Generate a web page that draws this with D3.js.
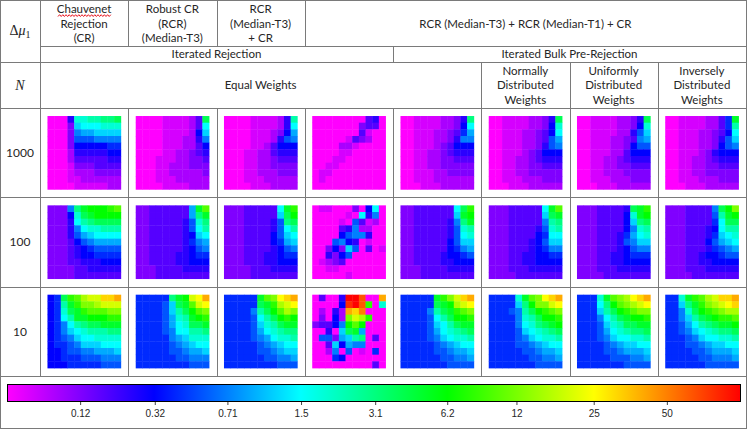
<!DOCTYPE html>
<html>
<head>
<meta charset="utf-8">
<script src="https://cdn.jsdelivr.net/npm/d3@7"></script>
<style>
  html, body { margin: 0; padding: 0; background: #fff; }
  svg { display: block; }
  text { font-family: Lato, "Open Sans", sans-serif; font-size: 11.5px; fill: #262626; }
  .math { font-family: "Liberation Serif", "DejaVu Serif", serif; font-size: 14px; }
</style>
</head>
<body>
<svg id="chart" width="747" height="429"></svg>
<script>
// table columns (methods) and rows (sample size N)
var methods = ["CR", "RCR-T3", "RCR-T3+CR", "RCR-all", "bulk-equal", "bulk-normal", "bulk-uniform", "bulk-inverse"];
var sampleSizes = [1000, 100, 10];

// colour bar
var barTicks = [0.12, 0.32, 0.71, 1.5, 3.1, 6.2, 12, 25, 50];
var barStops = ["#ff00ff", "#0000ff", "#00ffff", "#00ff00", "#ffff00", "#ff0000"];

// heatmaps, one per method: 11 strings (top row first), one char per cell.
// char (base 36) = position on the colour bar in 30ths: 0 magenta .. u red
var heat1000 = [
  ["0005ddeeffg","0003bcccddd","00039aabbbb","00038889999","00036666677","00025555566","00024444455","00013334444","00012223333","00011222222","00001111122"],
  ["0000111124g","0000111124c","0000111126b","00001112259","00001112246","00001122345","00011122334","00011222333","00011222223","00011122222","00001111222"],
  ["0000111125e","0000111125c","0000111236a","00001112589","00001124666","00011224555","00011223444","00011223333","00011222333","00011122222","00001112222"],
  ["00000000450","00000003440","00000004100","00000143200","00002210000","00001100000","00011000000","00110000000","01100000000","01000000000","00000000000"],
  ["0011112235f","0011112236c","0011122347a","00111223599","00111234666","00112234555","00112233444","00112233333","00111223333","00111222222","00011122222"],
  ["0011112235g","0011112236d","0011122346c","0011122348a","00111223589","00111234666","00112234555","00112233444","00112233333","00111222333","00011122222"],
  ["0011112235g","0011112236d","0011112258b","0011122349a","00111223688","00111224666","00112234555","00112233444","00112223333","00111222333","00011122222"],
  ["0011112247h","0011112247e","0011122346c","0011122358b","00111223689","00111235666","00112234555","00112233444","00112233333","00111222333","00011122222"]
];
var heat100 = [
  ["3339fhiiijk","3336dghiiii","3335cefgggg","33359cddeee","33358abcccc","3334689aaaa","33345678888","33345667777","33344555666","33334455555","33334444444"],
  ["33444444ahk","33444444afh","334444458df","334444458ce","334444456bc","3344444579a","33444445689","33444455677","33444455666","33344445555","33344444444"],
  ["33344444chj","33344444bgi","333444458fg","333444458ce","333444468bc","333444467ab","33344445689","33344455677","33344455666","33334445555","33334444444"],
  ["011000306c0","0000010c590","00001084120","00004592200","00006899500","00089650100","00363b80401","00536800000","01234000000","00110000000","00000100000"],
  ["33444444cgj","33444444bhi","334444459fh","334444458de","334444458cd","334444468bb","3344444679a","33444456678","33444455666","33344445555","33344444444"],
  ["33344444chk","33344444bgh","333444449ef","333444458de","333444467cc","333444568bb","33344456799","33344556677","33344556666","33344455555","33334444444"],
  ["33344445ghj","33344446dhi","33344446bfg","333444469de","33344457acd","333444589bb","33344456899","33344556777","33344556666","33344455555","33334444444"],
  ["33344449gil","33344448ehi","33344447cgg","33344456cee","33344457bcd","33344468abc","3334445789a","33344566788","33344556666","33344455555","33334444444"]
];
var heat10 = [
  ["67gjkmnnppq","67ehjllmnnn","67dghjkkkll","67cehhiiijj","679cefgghhh","679bcdeeeff","6789bccdddd","67789bbbccc","6678899aaab","66777888999","66677777888"],
  ["77777fhinoq","77778bghkno","77778begikl","77778adehij","77778acdggh","777789cceef","777779abddd","7777789abcc","77777889aab","77777788999","77777777888"],
  ["77777hklopq","77777ghjmno","77779egikml","77778cegiji","77778bdeghh","77778acdeff","777789acdde","7777789abcc","77777889abb","7777778899a","77777777888"],
  ["04005uus00q","00006tusj0d","02052qpr000","03062lnmj00","34469iki000","0050bgha000","0883abef040","004b6a99000","00290801070","00076000000","00000000040"],
  ["77777hjlnpq","77777ghimno","77779eghjkl","77778cegiij","77778bceghh","77778acdefg","777789bcdde","7777789abcc","77777889aab","7777778899a","77777778888"],
  ["7777dhklopq","7777bfillno","77789egijkl","77779degiij","77779cdfghi","77778bcdefg","777789bcdde","7777889abcc","77777889aab","7777778899a","77777778888"],
  ["777dhklmopq","777cfiklmno","777begijkll","7779ceghiij","7778bdegghh","7778acdeffg","77789bccdde","777789abbcc","7777889aaab","7777788899a","77777778888"],
  ["77dhjkmnppq","77bfhjlmnop","779dgijklmm","779beghijjk","778acefghhi","7789bcdeffg","77789bccdde","777889abbcc","7777889aaab","7777788999a","77777788888"]
];

var svg = d3.select("#chart"),
    W = 746, H = 428,
    hm = 73.3,            // heatmap side
    lineCol = "#7a7a7a";

var col = d3.scaleBand().domain(methods).range([40, W]),
    row = d3.scaleBand().domain(sampleSizes).range([108, 376]),
    cell = d3.scaleBand().domain(d3.range(11)).range([0, hm]),
    pos = d3.scaleLinear().domain([0, 30]).range([0, 1]),
    color = d3.scaleLinear().domain([0, .2, .4, .6, .8, 1]).range(barStops);

//
// heatmaps
var grids = {1000: heat1000, 100: heat100, 10: heat10};
sampleSizes.forEach(function(n) {
  grids[n].forEach(function(g, i) {
    var cells = [];
    g.forEach(function(line, r) {
      line.split("").forEach(function(ch, c) { cells.push({r: r, c: c, v: parseInt(ch, 36)}); });
    });
    svg.append("g")
      .attr("transform", "translate(" + (col(methods[i]) + (col.bandwidth() - hm) / 2) + "," +
                                        (row(n) + (row.bandwidth() - hm) / 2) + ")")
      .selectAll("rect").data(cells).join("rect")
      .attr("x", d => cell(d.c)).attr("y", d => cell(d.r))
      .attr("width", cell.bandwidth() + 0.4).attr("height", cell.bandwidth() + 0.4)
      .attr("fill", d => color(pos(d.v)));
  });
});

//
// table grid
function px(v) { return Math.round(v) + 0.5; }
function hline(y, x1, x2) {
  svg.append("line").attr("x1", px(x1) - 0.5).attr("x2", px(x2) + 0.5).attr("y1", px(y)).attr("y2", px(y))
    .attr("stroke", lineCol).attr("stroke-width", 1);
}
function vline(x, y1, y2) {
  svg.append("line").attr("x1", px(x)).attr("x2", px(x)).attr("y1", px(y1) - 0.5).attr("y2", px(y2) + 0.5)
    .attr("stroke", lineCol).attr("stroke-width", 1);
}
var splitX = col(methods[4]);
[0, 62, 108, row(100), row(10), 376, H].forEach(y => hline(y, 0, W));
hline(46, 40, W);
vline(0, 0, H); vline(W, 0, H);
vline(40, 0, 376);
methods.slice(1, 4).forEach(m => { vline(col(m), 0, 46); vline(col(m), 108, 376); });
vline(splitX, 46, 62); vline(splitX, 108, 376);
methods.slice(5).forEach(m => vline(col(m), 62, 376));

//
// header texts
function label(x, y, lines, step) {
  var t = svg.append("text").attr("text-anchor", "middle");
  lines.forEach(function(s, i) {
    t.append("tspan").attr("x", x).attr("y", y + i * (step || 14.6)).attr("dy", "0.35em").text(s);
  });
  return t;
}
var mid = m => col(m) + col.bandwidth() / 2;
label(mid("CR"), 9, ["Chauvenet", "Rejection", "(CR)"]);
label(mid("RCR-T3"), 9, ["Robust CR", "(RCR)", "(Median-T3)"]);
label(mid("RCR-T3+CR"), 9, ["RCR", "(Median-T3)", "+ CR"]);
label((col("RCR-all") + W) / 2, 24, ["RCR (Median-T3) + RCR (Median-T1) + CR"]);
label((40 + splitX) / 2, 54, ["Iterated Rejection"]);
label((splitX + W) / 2, 54, ["Iterated Bulk Pre-Rejection"]);
label((40 + col("bulk-normal")) / 2, 85, ["Equal Weights"]);
label(mid("bulk-normal"), 70.5, ["Normally", "Distributed", "Weights"]);
label(mid("bulk-uniform"), 70.5, ["Uniformly", "Distributed", "Weights"]);
label(mid("bulk-inverse"), 70.5, ["Inversely", "Distributed", "Weights"]);

// spell-check squiggle under "Chauvenet"
var sq = d3.range(58, 112, 1.6).map((x, i) => [x, 15.6 + (i % 2 ? -0.9 : 0.9)]);
svg.append("path").attr("d", d3.line()(sq)).attr("fill", "none").attr("stroke", "#e8141e").attr("stroke-width", 1);

// Δμ1 and N
var dm = svg.append("text").attr("class", "math").attr("x", 20).attr("y", 35).attr("text-anchor", "middle");
dm.append("tspan").text("Δ");
dm.append("tspan").style("font-style", "italic").text("μ");
dm.append("tspan").attr("dy", 3).style("font-size", "10px").text("1");
svg.append("text").attr("class", "math").attr("x", 20).attr("y", 90).attr("text-anchor", "middle")
  .style("font-style", "italic").text("N");

sampleSizes.forEach(function(n) {
  svg.append("text").attr("x", 20).attr("y", row(n) + row.bandwidth() / 2).attr("dy", "0.35em")
    .attr("text-anchor", "middle").style("font-size", "12px").text(n);
});

//
// colour bar
var bx0 = 7, bx1 = 740, by = 384, bh = 17, OFF = 0.075;
var barScale = d3.scaleLog().domain([100 / 1024, 100]).range([bx0, bx1]);
var grad = svg.append("defs").append("linearGradient").attr("id", "cbar");
barStops.forEach((c, i) => grad.append("stop").attr("offset", (i * 20) + "%").attr("stop-color", c));
var bar = svg.append("g");
bar.append("rect").attr("x", bx0 + 0.5).attr("y", by + 0.5).attr("width", bx1 - bx0).attr("height", bh)
  .attr("fill", "url(#cbar)").attr("stroke", "#000").attr("stroke-width", 1);
var ax = bar.append("g").attr("transform", "translate(0," + (by + bh + 1) + ")")
  .call(d3.axisBottom(barScale)
    .tickValues(barTicks.map(v => v + OFF))
    .tickFormat((d, i) => barTicks[i])
    .tickSize(3).tickPadding(5));
ax.select(".domain").remove();
ax.selectAll(".tick line").attr("stroke", "#444");
ax.selectAll(".tick text").attr("fill", "#222")
  .style("font-family", "'Liberation Sans Narrow', 'Liberation Sans', sans-serif").style("font-size", "10px");
</script>
</body>
</html>
